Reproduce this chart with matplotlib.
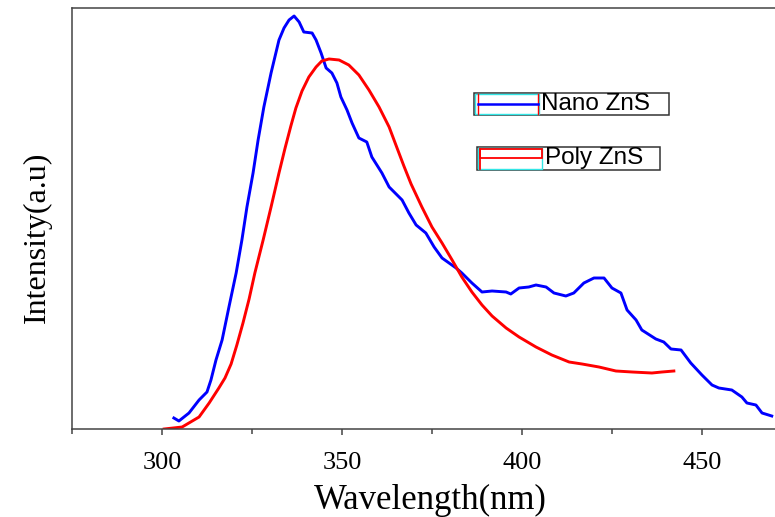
import matplotlib
matplotlib.use("Agg")
import matplotlib.pyplot as plt
from matplotlib.patches import Rectangle
from matplotlib.lines import Line2D
from matplotlib.ticker import MultipleLocator

# PL spectra (intensity in arbitrary units)
nano_wl = [303.3, 304.7, 307.5, 310.3, 312.5, 313.6, 315.0, 316.7, 318.6, 320.6,
           322.2, 323.6, 325.3, 326.7, 328.3, 330.3, 332.5, 333.9, 335.3, 336.7,
           338.1, 339.4, 341.7, 342.8, 344.2, 345.6, 347.2, 348.6, 349.7, 351.4,
           352.8, 354.7, 356.9, 358.3, 361.1, 363.1, 366.7, 368.6, 370.6, 373.3,
           375.6, 377.8, 381.7, 383.3, 386.1, 388.9, 391.7, 395.6, 396.9, 399.2,
           401.9, 403.9, 406.7, 408.9, 412.2, 414.4, 417.2, 420.0, 422.8, 425.0,
           427.5, 429.2, 431.7, 433.3, 437.2, 439.4, 441.4, 444.2, 446.9, 450.0,
           452.8, 454.7, 458.3, 461.1, 462.5, 465.0, 466.7, 469.4]
nano_int = [11, 8, 16, 29, 37, 49, 69, 89, 122, 156,
            189, 222, 256, 289, 322, 356, 389, 401, 409, 413,
            407, 397, 396, 389, 376, 361, 356, 346, 332, 319,
            306, 291, 287, 272, 256, 242, 229, 216, 204, 196,
            182, 171, 161, 156, 146, 137, 138, 137, 135, 141,
            142, 144, 142, 136, 133, 136, 146, 151, 151, 141,
            136, 119, 109, 99, 90, 87, 80, 79, 66, 54,
            44, 41, 39, 32, 26, 24, 16, 13]

poly_wl = [300.6, 305.6, 310.3, 313.1, 315.8, 317.5, 319.2, 320.8, 322.5, 324.2,
           325.8, 328.1, 330.3, 332.5, 334.2, 335.8, 337.2, 338.9, 340.8, 342.8,
           344.4, 346.4, 349.2, 351.9, 354.7, 357.5, 360.3, 363.1, 365.3, 367.2,
           369.2, 372.2, 375.0, 377.8, 380.6, 383.3, 386.1, 388.9, 391.7, 395.6,
           399.2, 403.9, 408.3, 413.1, 416.7, 421.4, 426.1, 430.6, 436.1, 438.9,
           442.2]
poly_int = [0, 2, 12, 26, 41, 51, 65, 84, 106, 130,
            156, 189, 222, 256, 281, 303, 321, 338, 352, 362,
            368, 370, 369, 364, 354, 339, 322, 302, 281, 263,
            245, 222, 202, 186, 169, 152, 137, 124, 113, 101,
            92, 82, 74, 67, 65, 62, 58, 57, 56, 57,
            58]

labels = ["Nano ZnS", "Poly ZnS"]
colors = ["#0000ff", "#ff0000"]

W, H = 775, 517
fig = plt.figure(figsize=(W / 100, H / 100), dpi=100)
ax = fig.add_axes([72 / W, 1 - 429 / H, 1 - 72 / W, 421 / H])

ax.plot(nano_wl, nano_int, color=colors[0], lw=2.1)
ax.plot(poly_wl, poly_int, color=colors[1], lw=2.1)

ax.set_xlim(275, 470.3)
ax.set_ylim(0, 421)
ax.xaxis.set_major_locator(MultipleLocator(50))
ax.xaxis.set_minor_locator(MultipleLocator(25))
ax.set_yticks([])
ax.spines["right"].set_visible(False)
for s in ["left", "bottom", "top"]:
    ax.spines[s].set_color("#444444")
    ax.spines[s].set_linewidth(1.1)
ax.tick_params(axis="x", which="major", length=4.5, width=1.1, color="#444444",
               pad=12, labelsize=19)
ax.tick_params(axis="x", which="minor", length=3.5, width=1.1, color="#444444")
for t in ax.get_xticklabels():
    t.set_family("Liberation Serif")

ax.set_xlabel("Wavelength(nm)", family="Liberation Serif", fontsize=25, va="baseline")
ax.xaxis.set_label_coords(0.509, -0.190)
ax.set_ylabel("Intensity(a.u)", family="Liberation Serif", fontsize=23)
ax.yaxis.set_label_coords(-0.028, 0.456)


# legend boxes as drawn in the reference, placed in figure pixel positions
def fx(x):
    return x / W


def fy(y):
    return 1 - y / H


tf = fig.transFigure
# Nano ZnS entry
fig.patches.append(Rectangle((fx(474), fy(115)), fx(669) - fx(474), fy(93) - fy(115),
                             transform=tf, fill=False, ec="#333333", lw=1.1))
fig.patches.append(Rectangle((fx(475), fy(114)), fx(539) - fx(475), fy(94) - fy(114),
                             transform=tf, fill=False, ec="#33e6e6", lw=1.0))
for xx in (478, 538):
    fig.lines.append(Line2D([fx(xx), fx(xx)], [fy(94), fy(114)], transform=tf,
                            color=colors[1], lw=1.0))
fig.lines.append(Line2D([fx(478), fx(538)], [fy(104), fy(104)], transform=tf,
                        color=colors[0], lw=1.8))
fig.text(fx(541), fy(104), labels[0], family="Liberation Sans", fontsize=17.5,
         va="center", ha="left")

# Poly ZnS entry
fig.patches.append(Rectangle((fx(477), fy(170)), fx(660) - fx(477), fy(147) - fy(170),
                             transform=tf, fill=False, ec="#333333", lw=1.1))
fig.patches.append(Rectangle((fx(478), fy(169)), fx(542) - fx(478), fy(148) - fy(169),
                             transform=tf, fill=False, ec="#33e6e6", lw=1.0))
fig.patches.append(Rectangle((fx(480), fy(158)), fx(542) - fx(480), fy(149) - fy(158),
                             transform=tf, fill=False, ec=colors[1], lw=1.3))
fig.lines.append(Line2D([fx(480), fx(480)], [fy(149), fy(169)], transform=tf,
                        color=colors[1], lw=1.3))
fig.text(fx(545), fy(158), labels[1], family="Liberation Sans", fontsize=17.5,
         va="center", ha="left")

fig.savefig("out.png", dpi=100)
